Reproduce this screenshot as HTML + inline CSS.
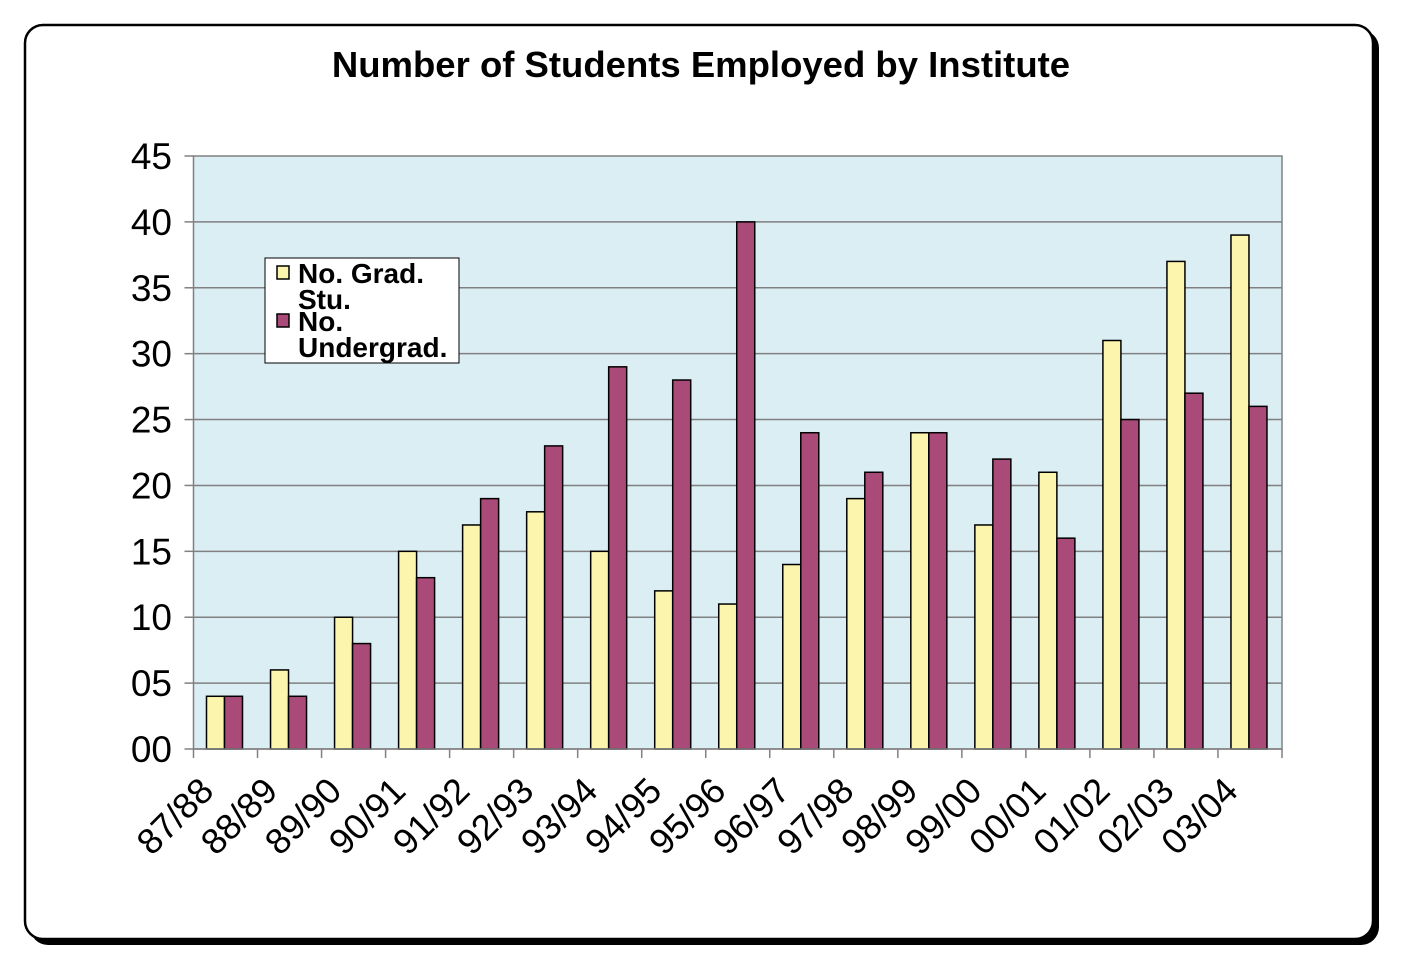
<!DOCTYPE html>
<html><head><meta charset="utf-8">
<style>
html,body{margin:0;padding:0;background:#fff;}
svg{display:block;font-family:"Liberation Sans",Arial,sans-serif;}
</style></head>
<body>
<svg id="chart" width="1408" height="977" viewBox="0 0 1408 977">
  <rect x="30" y="30" width="1349" height="915" rx="18" fill="#000"/>
  <rect x="25" y="25" width="1348" height="914" rx="18" fill="#fff" stroke="#000" stroke-width="2.5"/>
  <text x="701" y="77" text-anchor="middle" font-size="36.5" font-weight="bold">Number of Students Employed by Institute</text>
  <rect x="193.5" y="156" width="1088.5" height="593" fill="#DBEEF4" stroke="#808080" stroke-width="1.5"/>
  <g id="grid"></g>
  <g id="bars"></g>
  <g id="axes"></g>
  <g>
    <rect x="265" y="258" width="194" height="105" fill="#fff" stroke="#000" stroke-width="1"/>
    <rect x="277" y="266" width="12" height="13" fill="#FBF5AD" stroke="#000" stroke-width="1.5"/>
    <text x="298" y="283" font-size="28" font-weight="bold">No. Grad.</text>
    <text x="298" y="309" font-size="28" font-weight="bold">Stu.</text>
    <rect x="277" y="314" width="12" height="13" fill="#AA4A78" stroke="#000" stroke-width="1.5"/>
    <text x="298" y="331" font-size="28" font-weight="bold">No.</text>
    <text x="298" y="357" font-size="28" font-weight="bold">Undergrad.</text>
  </g>
</svg>
<script>
const categories=["87/88","88/89","89/90","90/91","91/92","92/93","93/94","94/95","95/96","96/97","97/98","98/99","99/00","00/01","01/02","02/03","03/04"];
const gradValues=[4,6,10,15,17,18,15,12,11,14,19,24,17,21,31,37,39];
const undergradValues=[4,4,8,13,19,23,29,28,40,24,21,24,22,16,25,27,26];
const yTicks=[0,5,10,15,20,25,30,35,40,45];
const yTickLabels=["00","05","10","15","20","25","30","35","40","45"];
const NS="http://www.w3.org/2000/svg";
const L=193.5,R=1282,T=156,B=749,yMax=45;
const band=(R-L)/categories.length;
function y(v){return B-(v/yMax)*(B-T);}
function x(i){return L+i*band;}
function mk(tag,attrs,parent){const e=document.createElementNS(NS,tag);for(const k in attrs)e.setAttribute(k,attrs[k]);parent.appendChild(e);return e;}
const grid=document.getElementById('grid'),bars=document.getElementById('bars'),axes=document.getElementById('axes');
yTicks.forEach((t,i)=>{
  if(t>0&&t<yMax){const g=mk('line',{x1:L,x2:R,y1:y(t),y2:y(t),stroke:'#808080','stroke-width':1.5},grid);
  
  }
  const tk=mk('line',{x1:L-9,x2:L,y1:y(t),y2:y(t),stroke:'#808080','stroke-width':1.5},axes);
  
  
  const lb=mk('text',{x:172,y:y(t)+13,'text-anchor':'end','font-size':37},axes);
  lb.textContent=yTickLabels[i];
  
  
});
const bw=18,off=13;
categories.forEach((c,i)=>{
  const g=mk('rect',{x:x(i)+off,y:y(gradValues[i]),width:bw,height:B-y(gradValues[i]),fill:'#FBF5AD',stroke:'#000','stroke-width':1.5},bars);
  
  
  const u=mk('rect',{x:x(i)+off+bw,y:y(undergradValues[i]),width:bw,height:B-y(undergradValues[i]),fill:'#AA4A78',stroke:'#000','stroke-width':1.5},bars);
  
  
});
for(let i=0;i<=categories.length;i++){
  const tk=mk('line',{x1:x(i),x2:x(i),y1:B,y2:B+9,stroke:'#808080','stroke-width':1.5},axes);
  
  
}
categories.forEach((c,i)=>{
  const ax=x(i)+22,ay=793;
  const lb=mk('text',{x:ax,y:ay,'text-anchor':'end','font-size':36,transform:`rotate(-45 ${ax} ${ay})`},axes);
  lb.textContent=c;
  
  
});
const xa=mk('line',{x1:L,x2:R,y1:B,y2:B,stroke:'#808080','stroke-width':1.5},axes);


</script>
</body></html>
